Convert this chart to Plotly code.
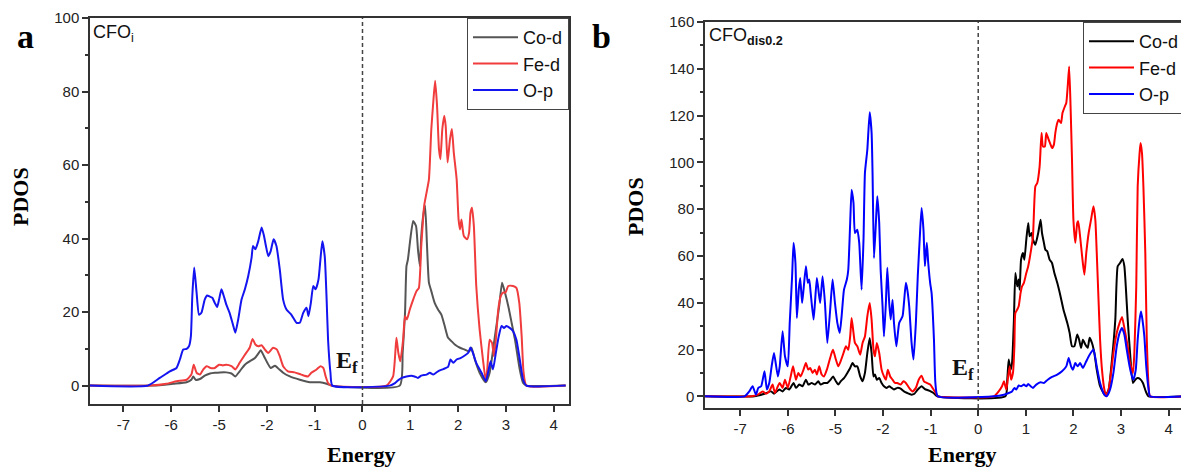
import plotly.graph_objects as go

# ---------------- data (energy in axis units, PDOS values) ----------------
TICK_POS = [-5, -4, -3, -2, -1, 0, 1, 2, 3, 4]
TICK_TEXT = ["-7", "-6", "-5", "-2", "-1", "0", "1", "2", "3", "4"]
SERIES_NAMES = ["Co-d", "Fe-d", "O-p"]

# Panel a: CFO_i
a_co_x = [-5.70, -4.38, -3.96, -3.68, -3.58, -3.54, -3.49, -3.40, -3.30, -3.19, -3.09, -2.98, -2.85, -2.74,
          -2.66, -2.57, -2.46, -2.36, -2.25, -2.18, -2.13, -2.06, -1.99, -1.92, -1.83, -1.74, -1.66, -1.52,
          -1.31, -1.10, -0.89, -0.75, -0.65,
          0.78, 0.84, 0.89, 0.92, 0.95, 1.00, 1.06, 1.12, 1.16, 1.20, 1.23, 1.28, 1.31, 1.35, 1.39, 1.44,
          1.51, 1.58, 1.65, 1.72, 1.79, 1.86, 1.93, 2.04, 2.14, 2.23, 2.28, 2.35, 2.45, 2.58, 2.66, 2.77,
          2.86, 2.92, 2.98, 3.05, 3.12, 3.19, 3.29, 3.36, 3.43, 4.25]
a_co_y = [0, 0, 0.5, 0.9, 1.6, 2.5, 1.6, 1.8, 2.7, 3.3, 3.5, 3.6, 3.6, 3.3,
          2.5, 3.9, 5.7, 6.6, 7.5, 8.7, 9.6, 8.0, 6.2, 4.8, 5.4, 4.4, 3.5, 2.5,
          1.6, 0.9, 0.9, 0.5, 0,
          0, 8.9, 19.8, 32.5, 34.3, 39.8, 44.8, 43.4, 37.1, 32.5, 40.7, 47.1, 48.9, 38.0, 28.0, 25.7,
          22.5, 20.7, 19.3, 16.2, 13.0, 12.1, 11.2, 10.3, 9.8, 9.3, 10.3, 7.1, 3.5, 0.9, 3.5, 13.4,
          21.6, 28.0, 25.3, 21.6, 17.1, 12.5, 4.4, 0.7, 0, 0]

a_fe_x = [-5.70, -4.45, -4.10, -3.89, -3.68, -3.58, -3.53, -3.47, -3.40, -3.33, -3.26, -3.18, -3.09, -3.00,
          -2.92, -2.85, -2.74, -2.66, -2.57, -2.46, -2.36, -2.30, -2.24, -2.18, -2.11, -2.04, -1.97, -1.87,
          -1.79, -1.73, -1.66, -1.56, -1.42, -1.28, -1.14, -1.07, -0.96, -0.88, -0.82, -0.77, -0.72, -0.65,
          0.50, 0.64, 0.71, 0.75, 0.79, 0.85, 0.89, 0.93, 0.99, 1.06, 1.13, 1.18, 1.23, 1.29, 1.34, 1.39,
          1.44, 1.48, 1.52, 1.56, 1.60, 1.63, 1.67, 1.71, 1.74, 1.78, 1.83, 1.87, 1.91, 1.97, 2.01, 2.04,
          2.07, 2.12, 2.19, 2.23, 2.26, 2.29, 2.33, 2.38, 2.45, 2.52, 2.58, 2.61, 2.66, 2.71, 2.75, 2.79,
          2.84, 2.89, 2.94, 2.99, 3.05, 3.15, 3.22, 3.28, 3.33, 3.37, 3.43, 4.25]
a_fe_y = [0, 0, 0.5, 1.2, 1.6, 3.0, 5.7, 3.5, 3.0, 4.4, 5.3, 4.8, 4.8, 5.7,
          5.5, 5.7, 5.3, 4.4, 6.2, 8.4, 10.3, 12.7, 11.2, 10.7, 11.0, 9.8, 8.9, 10.3,
          9.8, 8.0, 5.3, 3.9, 3.6, 3.0, 2.5, 3.5, 4.4, 5.3, 4.8, 2.5, 0.7, 0,
          0, 2.5, 13.0, 8.9, 6.6, 12.5, 18.9, 18.0, 20.7, 23.4, 25.7, 26.6, 38.0, 48.9, 52.5, 56.1,
          69.8, 77.0, 82.9, 76.1, 64.3, 61.6, 69.8, 73.4, 70.7, 60.7, 67.0, 69.8, 63.4, 56.1, 45.2, 42.5,
          45.2, 40.7, 39.8, 41.6, 47.1, 48.4, 43.4, 27.1, 15.3, 7.1, 1.2, 4.4, 12.5, 11.6, 8.0, 12.5,
          20.7, 24.3, 25.3, 25.3, 27.1, 27.1, 26.6, 22.5, 13.4, 3.5, 0, 0]

a_op_x = [-5.70, -4.49, -4.24, -4.03, -3.89, -3.82, -3.75, -3.68, -3.63, -3.59, -3.56, -3.52, -3.47, -3.42,
          -3.37, -3.30, -3.25, -3.19, -3.14, -3.09, -3.04, -3.00, -2.95, -2.90, -2.85, -2.78, -2.71, -2.66,
          -2.60, -2.53, -2.46, -2.39, -2.32, -2.29, -2.24, -2.18, -2.11, -2.06, -2.02, -1.97, -1.92, -1.86,
          -1.80, -1.73, -1.66, -1.59, -1.49, -1.38, -1.31, -1.24, -1.17, -1.13, -1.08, -1.03, -0.98, -0.92,
          -0.88, -0.84, -0.79, -0.75, -0.72, -0.67, -0.63,
          0.57, 0.68, 0.75, 0.82, 0.92, 1.02, 1.09, 1.16, 1.23, 1.34, 1.41, 1.48, 1.58, 1.69, 1.79, 1.84,
          1.90, 1.97, 2.05, 2.14, 2.21, 2.26, 2.31, 2.38, 2.49, 2.58, 2.64, 2.68, 2.73, 2.79, 2.85, 2.91,
          2.96, 3.01, 3.08, 3.15, 3.22, 3.29, 3.36, 3.43, 4.25]
a_op_y = [0, 0, 2.1, 3.9, 4.8, 7.1, 9.8, 10.0, 10.7, 13.4, 24.3, 32.1, 25.3, 19.3,
          19.8, 23.4, 24.5, 24.2, 23.9, 22.5, 21.4, 23.4, 26.2, 24.3, 22.1, 19.8, 16.6, 14.4,
          18.0, 23.4, 26.2, 29.8, 34.8, 38.0, 37.1, 39.3, 43.0, 40.7, 38.0, 35.2, 36.6, 39.8,
          38.0, 31.6, 23.4, 20.7, 19.3, 17.1, 17.1, 19.8, 21.2, 18.9, 22.5, 27.1, 26.2, 28.9,
          34.3, 39.3, 35.2, 23.4, 12.5, 3.5, 0,
          0, 0.7, 1.5, 2.1, 2.5, 2.7, 2.5, 2.1, 2.7, 3.0, 3.5, 3.0, 3.9, 4.5, 5.1, 7.1,
          6.2, 7.1, 7.5, 8.2, 8.9, 10.4, 8.9, 6.2, 3.5, 1.2, 4.4, 6.6, 4.4, 8.9, 13.4, 16.2,
          15.7, 16.2, 15.7, 14.8, 12.5, 7.1, 1.6, 0, 0]

# Panel b: CFO_dis0.2
b_co_x = [-5.74, -4.70, -4.49, -4.35, -4.29, -4.18, -4.11, -4.04, -3.97, -3.88,
          -3.83, -3.76, -3.69, -3.62, -3.57, -3.50, -3.43, -3.36, -3.31, -3.24,
          -3.17, -3.10, -3.05, -2.99, -2.94, -2.89, -2.82, -2.75, -2.69, -2.64,
          -2.59, -2.54, -2.48, -2.43, -2.38, -2.33, -2.28, -2.24, -2.20, -2.17,
          -2.13, -2.08, -2.03, -1.98, -1.92, -1.87, -1.82, -1.77, -1.70, -1.63,
          -1.56, -1.49, -1.40, -1.34, -1.27, -1.19, -1.12, -1.03, -0.94, -0.86,
          0.57, 0.61, 0.64, 0.68, 0.71, 0.75, 0.78, 0.82, 0.85, 0.87,
          0.90, 0.94, 0.97, 1.01, 1.05, 1.08, 1.12, 1.15, 1.20, 1.26,
          1.31, 1.34, 1.38, 1.41, 1.45, 1.50, 1.55, 1.60, 1.66, 1.73,
          1.79, 1.87, 1.92, 1.97, 2.02, 2.08, 2.12, 2.16, 2.20, 2.25,
          2.30, 2.34, 2.39, 2.44, 2.49, 2.56, 2.67, 2.74, 2.81, 2.88,
          2.93, 2.98, 3.03, 3.07, 3.10, 3.14, 3.19, 3.25, 3.30, 3.35,
          3.40, 3.46, 3.52, 3.58, 4.30]
b_co_y = [0, 0, 1.1, 2.1, 1.1, 2.9, 2.1, 3.6, 2.9, 5.7,
          3.6, 5.0, 4.3, 7.1, 5.0, 5.7, 5.0, 6.4, 5.0, 5.7,
          5.7, 7.1, 8.5, 6.4, 5.0, 6.4, 7.8, 10.0, 12.1, 14.2,
          12.8, 12.8, 8.5, 6.4, 10.0, 18.5, 24.9, 18.5, 8.5, 9.3,
          7.1, 7.8, 5.7, 4.3, 3.6, 4.3, 3.6, 2.9, 3.6, 3.3,
          2.1, 1.4, 0.7, 1.1, 2.9, 4.3, 3.1, 2.4, 1.4, 0,
          0, 7.1, 15.7, 11.4, 14.2, 32.8, 52.7, 47.0, 49.9, 45.6,
          58.4, 61.3, 58.4, 67.0, 74.1, 68.4, 69.8, 67.0, 64.8, 69.8,
          75.5, 69.8, 65.6, 62.7, 62.0, 58.4, 57.0, 52.7, 48.5, 42.7,
          37.1, 31.4, 27.1, 21.4, 21.4, 26.4, 24.2, 20.7, 24.2, 22.1,
          20.7, 25.0, 22.8, 18.5, 11.4, 4.3, 0.3, 2.9, 15.7, 32.8,
          55.6, 57.0, 58.7, 55.6, 47.0, 32.8, 18.5, 5.7, 7.1, 7.8,
          7.4, 5.7, 2.1, 0, 0]

b_fe_x = [-5.74, -4.77, -4.63, -4.53, -4.46, -4.39, -4.32, -4.27, -4.21, -4.17,
          -4.11, -4.06, -4.00, -3.94, -3.89, -3.83, -3.78, -3.73, -3.67, -3.62,
          -3.57, -3.53, -3.48, -3.43, -3.39, -3.34, -3.29, -3.24, -3.18, -3.13,
          -3.08, -3.05, -2.99, -2.94, -2.89, -2.83, -2.78, -2.73, -2.69, -2.66,
          -2.62, -2.59, -2.54, -2.48, -2.43, -2.38, -2.33, -2.28, -2.24, -2.20,
          -2.17, -2.13, -2.08, -2.03, -1.98, -1.94, -1.90, -1.85, -1.80, -1.75,
          -1.70, -1.63, -1.57, -1.52, -1.45, -1.38, -1.31, -1.25, -1.19, -1.14,
          -1.08, -1.01, -0.94, -0.87, -0.85,
          0.33, 0.43, 0.50, 0.54, 0.59, 0.62, 0.66, 0.69, 0.73, 0.76,
          0.78, 0.82, 0.85, 0.89, 0.92, 0.96, 1.01, 1.05, 1.10, 1.15,
          1.20, 1.24, 1.29, 1.33, 1.36, 1.40, 1.43, 1.48, 1.52, 1.55,
          1.59, 1.62, 1.66, 1.69, 1.74, 1.77, 1.82, 1.85, 1.88, 1.91,
          1.94, 1.97, 2.00, 2.04, 2.08, 2.10, 2.14, 2.19, 2.23, 2.27,
          2.32, 2.37, 2.42, 2.46, 2.49, 2.53, 2.56, 2.60, 2.65, 2.69,
          2.74, 2.79, 2.84, 2.91, 2.97, 3.02, 3.05, 3.09, 3.14, 3.19,
          3.25, 3.28, 3.32, 3.35, 3.39, 3.41, 3.44, 3.47, 3.51, 3.54,
          3.58, 3.61, 4.30]
b_fe_y = [0, 0, 0.7, 2.1, 1.1, 2.1, 5.0, 1.4, 4.3, 5.7,
          3.6, 7.1, 3.6, 8.5, 12.8, 7.1, 10.0, 8.5, 11.4, 14.2,
          11.4, 12.1, 10.0, 11.4, 9.3, 12.8, 9.3, 8.5, 11.4, 15.0,
          18.5, 19.9, 15.7, 12.8, 15.0, 18.5, 21.4, 19.9, 25.6, 33.5,
          27.1, 22.8, 21.4, 17.8, 22.8, 25.6, 34.2, 39.9, 32.8, 19.9,
          17.1, 22.8, 18.5, 11.4, 8.5, 7.1, 11.4, 8.5, 7.1, 5.7,
          5.7, 5.0, 6.4, 5.7, 3.6, 2.1, 3.6, 7.1, 8.8, 6.4,
          5.7, 5.0, 2.9, 0.7, 0,
          0, 2.1, 4.3, 6.4, 2.9, 7.1, 12.8, 7.1, 10.0, 21.4,
          35.6, 37.1, 38.5, 44.2, 47.0, 48.5, 52.7, 55.6, 61.3, 68.4,
          89.7, 91.2, 98.3, 112.6, 106.8, 106.8, 112.6, 109.7, 107.6, 106.1,
          107.6, 112.6, 116.8, 118.2, 116.8, 121.1, 123.9, 125.4, 132.5, 141.0,
          123.9, 101.1, 75.5, 65.6, 74.1, 74.8, 68.4, 58.4, 52.0, 61.3,
          69.8, 75.5, 81.2, 75.5, 61.3, 39.9, 24.2, 11.4, 2.9, 0,
          2.9, 10.0, 18.5, 27.1, 31.4, 33.9, 31.4, 27.1, 21.4, 14.2,
          10.0, 18.5, 47.0, 89.7, 104.0, 108.3, 104.0, 89.7, 61.3, 25.6,
          4.3, 0, 0]

b_op_x = [-5.74, -4.91, -4.81, -4.74, -4.67, -4.62, -4.56, -4.49, -4.44, -4.39,
          -4.34, -4.29, -4.21, -4.17, -4.11, -4.06, -4.00, -3.96, -3.91, -3.88,
          -3.84, -3.81, -3.77, -3.74, -3.70, -3.67, -3.62, -3.58, -3.55, -3.52,
          -3.46, -3.43, -3.39, -3.35, -3.32, -3.27, -3.22, -3.17, -3.11, -3.06,
          -3.01, -2.96, -2.91, -2.87, -2.82, -2.76, -2.73, -2.69, -2.66, -2.62,
          -2.59, -2.54, -2.50, -2.45, -2.41, -2.38, -2.33, -2.28, -2.24, -2.22,
          -2.19, -2.15, -2.12, -2.08, -2.05, -2.01, -1.98, -1.94, -1.91, -1.87,
          -1.84, -1.80, -1.77, -1.72, -1.66, -1.59, -1.56, -1.52, -1.49, -1.45,
          -1.40, -1.36, -1.31, -1.27, -1.23, -1.19, -1.15, -1.12, -1.08, -1.05,
          -1.01, -0.98, -0.93, -0.90, -0.85,
          0.33, 0.54, 0.64, 0.71, 0.76, 0.80, 0.85, 0.90, 0.96, 1.01,
          1.05, 1.10, 1.15, 1.22, 1.31, 1.38, 1.46, 1.55, 1.66, 1.76,
          1.85, 1.90, 1.95, 1.99, 2.04, 2.09, 2.14, 2.20, 2.27, 2.34,
          2.42, 2.49, 2.56, 2.65, 2.70, 2.77, 2.84, 2.91, 2.97, 3.02,
          3.07, 3.12, 3.18, 3.23, 3.26, 3.31, 3.35, 3.39, 3.42, 3.45,
          3.49, 3.53, 3.58, 3.61, 4.30]
b_op_y = [0, 0, 2.1, 4.3, 0.7, 3.6, 4.3, 10.7, 2.9, 5.7,
          12.8, 18.5, 8.5, 12.8, 27.8, 17.1, 12.8, 31.4, 51.3, 65.6,
          57.0, 33.5, 45.6, 50.6, 39.9, 45.6, 55.6, 48.5, 49.9, 44.2,
          32.8, 39.9, 50.6, 44.2, 39.9, 51.3, 39.9, 22.8, 37.1, 49.9,
          39.9, 31.4, 27.1, 34.2, 45.6, 49.9, 54.1, 74.1, 88.3, 82.6,
          69.8, 71.2, 65.6, 45.6, 67.0, 95.5, 105.4, 121.4, 112.6, 95.5,
          59.1, 74.1, 85.5, 74.1, 54.1, 38.5, 25.6, 39.9, 54.9, 39.9,
          32.8, 41.3, 31.4, 21.4, 31.4, 34.2, 39.9, 48.5, 45.6, 38.5,
          22.8, 15.7, 31.4, 51.3, 67.0, 80.5, 71.2, 55.6, 65.6, 57.0,
          48.5, 44.2, 24.2, 5.7, 0,
          0, 0.7, 1.4, 2.1, 3.6, 2.9, 4.6, 4.3, 5.0, 4.3,
          5.3, 4.3, 3.6, 5.0, 6.0, 5.7, 7.1, 8.3, 9.3, 10.7,
          12.8, 16.4, 12.8, 11.4, 14.2, 12.8, 14.2, 12.1, 15.0, 17.8,
          20.0, 12.8, 5.7, 0.7, 0, 2.9, 10.0, 21.4, 27.1, 29.2,
          26.4, 20.0, 12.8, 8.5, 7.1, 11.4, 24.2, 32.8, 36.3, 32.8,
          25.6, 12.8, 2.9, 0, 0]

for xs, ys in [(a_co_x, a_co_y), (a_fe_x, a_fe_y), (a_op_x, a_op_y),
               (b_co_x, b_co_y), (b_fe_x, b_fe_y), (b_op_x, b_op_y)]:
    assert len(xs) == len(ys), (len(xs), len(ys))

# ---------------- figure ----------------
W, H = 1181, 469


def fx(p):
    return p / W


def fy(p):
    return 1 - p / H


fig = go.Figure()

colors_a = ["#555555", "#f03c3c", "#1414f0"]
colors_b = ["#000000", "#ff0000", "#0000ff"]
data_a = [(a_co_x, a_co_y), (a_fe_x, a_fe_y), (a_op_x, a_op_y)]
data_b = [(b_co_x, b_co_y), (b_fe_x, b_fe_y), (b_op_x, b_op_y)]

for name, (xs, ys), c in zip(SERIES_NAMES, data_a, colors_a):
    fig.add_trace(go.Scatter(x=xs, y=ys, mode="lines", name=name,
                             line=dict(color=c, width=2, shape="spline", smoothing=0.5),
                             xaxis="x", yaxis="y", legend="legend"))
for name, (xs, ys), c in zip(SERIES_NAMES, data_b, colors_b):
    fig.add_trace(go.Scatter(x=xs, y=ys, mode="lines", name=name,
                             line=dict(color=c, width=2, shape="spline", smoothing=0.5),
                             xaxis="x2", yaxis="y2", legend="legend2"))

tickfont = dict(family="Liberation Sans, Arial", size=15, color="#222222")
axis_common = dict(showline=True, linecolor="#333333", linewidth=1.5, ticks="outside",
                   ticklen=6, tickwidth=1.5, tickcolor="#333333", showgrid=False,
                   zeroline=False, tickfont=tickfont, automargin=False)

legend_font = dict(family="Liberation Sans, Arial", size=18, color="#111111")

fig.update_layout(
    width=W, height=H,
    margin=dict(l=0, r=0, t=0, b=0, pad=0, autoexpand=False),
    paper_bgcolor="white", plot_bgcolor="white",
    showlegend=True,
    xaxis=dict(domain=[fx(90), fx(569)], range=[-5.70, 4.32], anchor="y",
               tickmode="array", tickvals=TICK_POS, ticktext=TICK_TEXT, mirror=True,
               **axis_common),
    yaxis=dict(domain=[fy(404), fy(18)], range=[-5, 100], anchor="x",
               tick0=0, dtick=20, mirror=True,
               minor=dict(dtick=10, tick0=0, ticklen=3, ticks="outside", tickcolor="#333333"),
               **axis_common),
    xaxis2=dict(domain=[fx(705), 1.0], range=[-5.74, 4.26], anchor="y2",
                tickmode="array", tickvals=TICK_POS, ticktext=TICK_TEXT, mirror=True,
                **axis_common),
    yaxis2=dict(domain=[fy(408), fy(22)], range=[-5, 160], anchor="x2",
                tick0=0, dtick=20, mirror=False,
                minor=dict(dtick=10, tick0=0, ticklen=3, ticks="outside", tickcolor="#333333"),
                **axis_common),
    legend=dict(x=fx(569), xanchor="right", y=fy(18), yanchor="top",
                bordercolor="#444444", borderwidth=1, bgcolor="white",
                font=legend_font, itemwidth=45, tracegroupgap=0),
    legend2=dict(x=fx(1083), xanchor="left", y=fy(22), yanchor="top",
                 bordercolor="#444444", borderwidth=1, bgcolor="white",
                 font=legend_font, itemwidth=45, tracegroupgap=0),
)

# Fermi level lines
for xr, yr in [("x", "y domain"), ("x2", "y2 domain")]:
    fig.add_shape(type="line", xref=xr, yref=yr, x0=0, x1=0, y0=0, y1=1,
                  line=dict(color="#444444", width=1.5, dash="4px,3px"))

serif = "Liberation Serif, Times New Roman"
sans = "Liberation Sans, Arial"
ann = [
    dict(text="<b>a</b>", x=fx(25), y=fy(36), font=dict(family=serif, size=34, color="black")),
    dict(text="<b>b</b>", x=fx(601), y=fy(36), font=dict(family=serif, size=34, color="black")),
    dict(text="<b>PDOS</b>", x=fx(20), y=fy(197), textangle=-90,
         font=dict(family=serif, size=22, color="black")),
    dict(text="<b>PDOS</b>", x=fx(635), y=fy(207), textangle=-90,
         font=dict(family=serif, size=22, color="black")),
    dict(text="<b>Energy</b>", x=fx(361), y=fy(454), font=dict(family=serif, size=22, color="black")),
    dict(text="<b>Energy</b>", x=fx(962), y=fy(454), font=dict(family=serif, size=22, color="black")),
    dict(text="<b>E<sub>f</sub></b>", x=fx(347), y=fy(362), font=dict(family=serif, size=24, color="#111111")),
    dict(text="<b>E<sub>f</sub></b>", x=fx(963), y=fy(369), font=dict(family=serif, size=24, color="#111111")),
    dict(text="CFO<sub>i</sub>", x=fx(91), y=fy(33), xanchor="left",
         font=dict(family=sans, size=18, color="#111111")),
    dict(text="CFO<sub><b>dis0.2</b></sub>", x=fx(707), y=fy(36), xanchor="left",
         font=dict(family=sans, size=18, color="#111111")),
]
for a in ann:
    a.setdefault("xanchor", "center")
    fig.add_annotation(xref="paper", yref="paper", showarrow=False, yanchor="middle", **a)

fig.write_html("out.html", config={"displayModeBar": False},
               post_script="document.body.style.margin='0px';document.body.style.overflow='hidden';")
